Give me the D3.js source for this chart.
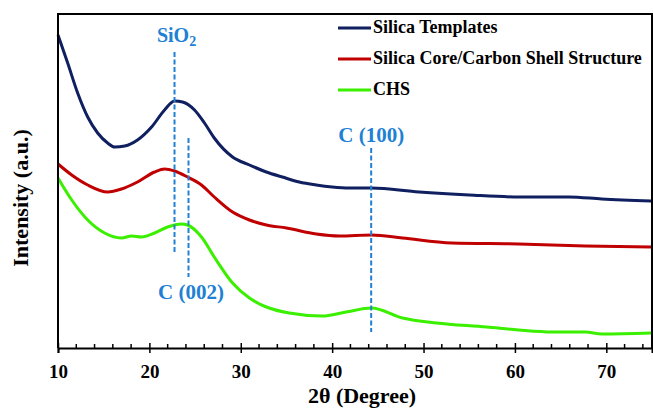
<!DOCTYPE html>
<html>
<head>
<meta charset="utf-8">
<script src="https://cdn.jsdelivr.net/npm/d3@7"></script>
<style>
  html, body { margin: 0; padding: 0; background: #fff; }
  svg { display: block; }
  text { font-family: "Liberation Serif", "Times New Roman", serif; font-weight: bold; }
</style>
</head>
<body>
<script>
// ---------- data ----------
const seriesNames = ["Silica Templates", "Silica Core/Carbon Shell Structure", "CHS"];
const seriesColors = ["#0f1f5f", "#c00000", "#3af000"];

const templatesTheta = [10, 11.06, 12.15, 13.25, 14.34, 15.43, 16.2, 17.3, 18.7, 20.24, 21.66, 22.75, 23.63, 24.94, 26.03, 27.1, 29.1, 30.95, 32.8, 34.55, 36.4, 38.26, 40.0, 41.9, 44.3, 49.5, 55.0, 60.4, 65.9, 69.5, 74.9];
const templatesInt   = [313, 285, 255, 231, 215, 205, 201, 202, 208, 221, 238, 247, 246, 238, 225, 210, 191, 183, 176, 171, 166, 163, 161, 160, 160, 156, 153, 151, 151, 149, 147];

const coreShellTheta = [10, 11.5, 13.25, 15.43, 16.96, 18.7, 20.57, 21.66, 22.75, 24.17, 25.7, 27.1, 29.1, 30.95, 32.8, 35.0, 38.26, 40.8, 44.3, 47.7, 53.1, 60.4, 67.7, 74.9];
const coreShellInt   = [184, 173, 163, 156, 159, 166, 176, 179, 177, 171, 163, 151, 136, 128, 123, 120, 114, 112, 113, 110, 105, 104, 102, 101];

const chsTheta = [10, 11.5, 13.25, 15.1, 16.96, 18.05, 19.15, 20.57, 21.99, 23.52, 24.17, 25.7, 27.1, 29.1, 30.95, 32.8, 35.3, 38.9, 41.5, 44.3, 47.7, 51.4, 56.9, 60.4, 64.1, 67.7, 69.5, 74.9];
const chsInt   = [170, 148, 128, 115, 110, 112, 111, 115, 121, 124, 123, 111, 91, 65, 50, 41, 35, 32, 36, 40, 30, 25, 21, 18, 16, 16, 14, 15];

const xTickValues = [10, 20, 30, 40, 50, 60, 70];
const xMinorValues = d3.range(10, 76, 2);

const peakLabels = ["SiO", "C (002)", "C (100)"];
const peakTheta  = [22.75, 24.28, 44.27];
const peakTop    = [296, 210, 200];
const peakBottom = [95, 71, 16];

// ---------- layout ----------
const W = 653, H = 416;
const L = 58, R = 652, T = 14, B = 348;

const x = d3.scaleLinear().domain([10, 75]).range([L, R]);
const y = d3.scaleLinear().domain([0, 334]).range([B, T]);

const svg = d3.select("body").append("svg").attr("width", W).attr("height", H);

const series = [
  {name: seriesNames[0], color: seriesColors[0], xs: templatesTheta, ys: templatesInt},
  {name: seriesNames[1], color: seriesColors[1], xs: coreShellTheta, ys: coreShellInt},
  {name: seriesNames[2], color: seriesColors[2], xs: chsTheta, ys: chsInt}
];

const line = d3.line().x(d => x(d[0])).y(d => y(d[1])).curve(d3.curveMonotoneX);

svg.append("g").selectAll("path").data(series).join("path")
  .attr("d", s => line(s.xs.map((v, i) => [v, s.ys[i]])))
  .attr("fill", "none")
  .attr("stroke", s => s.color)
  .attr("stroke-width", 3)
  .attr("stroke-linejoin", "round");

// peak dashed lines
const labColor = "#2180d3";
svg.append("g").selectAll("line").data(peakTheta).join("line")
  .attr("x1", d => x(d)).attr("x2", d => x(d))
  .attr("y1", (d, i) => y(peakTop[i])).attr("y2", (d, i) => y(peakBottom[i]))
  .attr("stroke", labColor).attr("stroke-width", 2).attr("stroke-dasharray", "5,2.5");

// peak labels
const sio = svg.append("text").attr("x", x(peakTheta[0]) + 2).attr("y", 42)
  .attr("text-anchor", "middle").attr("fill", labColor).attr("font-size", 20);
sio.append("tspan").text(peakLabels[0]);
sio.append("tspan").attr("font-size", 14).attr("dy", 4).text("2");

svg.append("text").attr("x", 191).attr("y", 299).attr("text-anchor", "middle")
  .attr("fill", labColor).attr("font-size", 21).text(peakLabels[1]);
svg.append("text").attr("x", x(peakTheta[2])).attr("y", 142).attr("text-anchor", "middle")
  .attr("fill", labColor).attr("font-size", 21).text(peakLabels[2]);

// frame
svg.append("path")
  .attr("d", `M${L},${B} L${L},${T} L${R},${T} L${R},${B}`)
  .attr("fill", "none").attr("stroke", "#000").attr("stroke-width", 2);

// bottom axis
const ax = svg.append("g").attr("transform", `translate(0,${B})`)
  .call(d3.axisBottom(x).tickValues(xTickValues).tickSize(5).tickFormat(d3.format("d")));
ax.select(".domain").attr("stroke", "#000").attr("stroke-width", 2);
ax.selectAll(".tick line").attr("stroke", "#000").attr("stroke-width", 1.5).attr("y1", -5);
ax.selectAll(".tick text").attr("font-size", 19).attr("fill", "#000").attr("y", 30).attr("dy", 0)
  .attr("font-family", '"Liberation Serif", serif').attr("font-weight", "bold");
svg.append("g").selectAll("line").data(xMinorValues.filter(v => !xTickValues.includes(v))).join("line")
  .attr("x1", d => x(d)).attr("x2", d => x(d)).attr("y1", B).attr("y2", B - 4)
  .attr("stroke", "#000").attr("stroke-width", 1.5);

// axis titles
svg.append("text").attr("x", 362).attr("y", 403).attr("text-anchor", "middle")
  .attr("font-size", 22).text("2θ (Degree)");
svg.append("text").attr("transform", `translate(28,${198}) rotate(-90)`).attr("text-anchor", "middle")
  .attr("font-size", 22).text("Intensity (a.u.)");

// legend
const lg = svg.append("g");
series.forEach((s, i) => {
  const yy = 28 + i * 31;
  lg.append("line").attr("x1", 338).attr("x2", 371).attr("y1", yy).attr("y2", yy)
    .attr("stroke", s.color).attr("stroke-width", 3);
  lg.append("text").attr("x", 373).attr("y", yy + 5).attr("font-size", 18).text(s.name);
});
</script>
</body>
</html>
